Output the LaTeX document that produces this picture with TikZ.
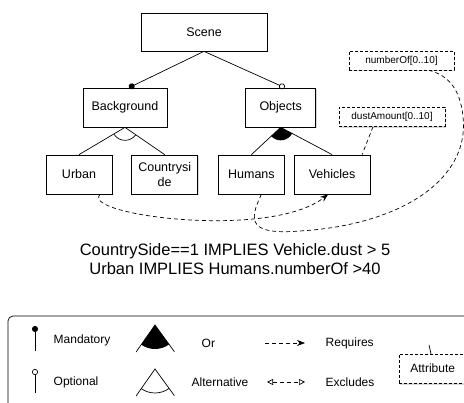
\documentclass[tikz,border=0pt]{standalone}
\usepackage{xcolor}
\usepackage{fontspec}
\setmainfont{Liberation Sans}
\usepackage{tikz}
\usetikzlibrary{arrows.meta, positioning, shadows}

\begin{document}
\begin{tikzpicture}[x=1pt, y=-1pt, line width=0.7pt,
    feature/.style={rectangle, draw, fill=white, minimum height=39pt, align=center, inner sep=2pt, font=\fontsize{12.5}{15}\selectfont, drop shadow={shadow xshift=1pt, shadow yshift=-1.2pt, opacity=0.3}},
    attribute/.style={rectangle, draw, dash pattern=on 3pt off 2pt, fill=white, minimum height=19pt, inner sep=2pt, font=\fontsize{10}{12}\selectfont, drop shadow={shadow xshift=1pt, shadow yshift=-1.2pt, opacity=0.3}},
    attrlink/.style={dash pattern=on 4pt off 3pt},
    requires/.style={dash pattern=on 4pt off 3pt, -{Stealth[length=8pt, width=6pt]}},
    legendtext/.style={anchor=west, font=\fontsize{12}{14}\selectfont}]
    \useasboundingbox (0,0) rectangle (464,403);
    \clip (0,0) rectangle (464,403);
    \node[feature, minimum width=126pt, minimum height=38pt] (scene) at (204,32) {Scene};
    \node[feature, minimum width=84pt] (background) at (125,107.5) {Background};
    \node[feature, minimum width=70pt, right=78pt of background] (objects) {Objects};
    \node[feature, minimum width=66pt] (urban) at (79,174.5) {Urban};
    \node[feature, minimum width=66pt, right=19pt of urban] (countryside) {Countrysi\\de};
    \node[feature, minimum width=66pt, right=20pt of countryside] (humans) {Humans};
    \node[feature, minimum width=76pt, right=9pt of humans] (vehicles) {Vehicles};
    \node[attribute, minimum width=105pt] (numberOf) at (401.5,60.5) {numberOf[0..10]};
    \node[attribute, minimum width=106pt] (dustAmount) at (392,117) {dustAmount[0..10]};
    \draw[-{Circle[length=6pt]}] (scene.south) -- ([xshift=4pt]background.north);
    \draw[-{Circle[open, length=6pt]}] (scene.south) -- ([xshift=4pt]objects.north);
    \draw (background.south) -- (urban.north);
    \draw (background.south) -- (countryside.north);
    \draw[fill=white] (background.south) ++(149:13) arc[start angle=149, end angle=36, radius=13];
    \draw (objects.south) -- (humans.north);
    \draw (objects.south) -- (vehicles.north);
    \fill (objects.south) -- ++(137:13) arc[start angle=137, end angle=29, radius=13] -- cycle;
    \draw[attrlink] ([xshift=-19pt]dustAmount.south) -- ([xshift=30pt]vehicles.north);
    \coordinate (hbend) at (300,231);
    \coordinate (rbend) at (463,117);
    \draw[attrlink] ([xshift=10pt]humans.south) .. controls (248,222) and (250,235) .. (hbend)
        .. controls (400,225) and (470,180) .. (rbend)
        .. controls (460,85) and (445,75) .. ([xshift=28pt]numberOf.south);
    \draw[requires] ([xshift=21pt]urban.south) .. controls (80,215) and (270,240) .. ([xshift=-4pt]vehicles.south);
    \node[align=center, font=\fontsize{16.5}{18.5}\selectfont] (constraints) at (235,259) {CountrySide==1 IMPLIES Vehicle.dust > 5\\Urban IMPLIES Humans.numberOf >40};
    \draw[rounded corners=5pt] (8,420) -- (8,316) -- (480,316);
    \draw[-{Circle[length=6pt]}] (35,351) -- (35,326);
    \draw[-{Circle[open, length=6pt]}] (35,393) -- (35,369);
    \node[legendtext] (mandatory) at (50,340) {Mandatory};
    \node[legendtext] (optional) at (50,382) {Optional};
    \coordinate (orapex) at (155,325);
    \fill (orapex) -- ++(125:24) arc[start angle=125, end angle=54, radius=24] -- cycle;
    \draw (orapex) ++(125:33) -- (orapex) -- ++(54:33);
    \node[legendtext] (or) at (198,343) {Or};
    \coordinate (altapex) at (155,369);
    \draw (altapex) ++(125:33) -- (altapex) -- ++(54:33);
    \draw (altapex) ++(125:24) arc[start angle=125, end angle=54, radius=24];
    \node[legendtext] (alternative) at (188,382) {Alternative};
    \coordinate (reqstart) at (265,343);
    \coordinate (reqend) at (305,343);
    \draw[requires] (reqstart) -- (reqend);
    \node[legendtext] (requireslbl) at (322,343) {Requires};
    \coordinate (exstart) at (267,382);
    \coordinate (exend) at (305,382);
    \draw[dash pattern=on 4pt off 3pt, {Triangle[open, length=6pt, width=6pt]}-{Triangle[open, length=6pt, width=6pt]}] (exstart) -- (exend);
    \node[legendtext] (excludeslbl) at (322,382) {Excludes};
    \node[attribute, anchor=north west, minimum height=29pt, text width=78pt, inner xsep=11pt, inner ysep=2pt, text depth=1pt, font=\fontsize{12}{14}\selectfont] (attrbox) at (399,354) {Attribute};
    \coordinate (attrtick) at (429,345);
    \draw ([xshift=32pt]attrbox.north west) -- (attrtick);
\end{tikzpicture}
\end{document}
